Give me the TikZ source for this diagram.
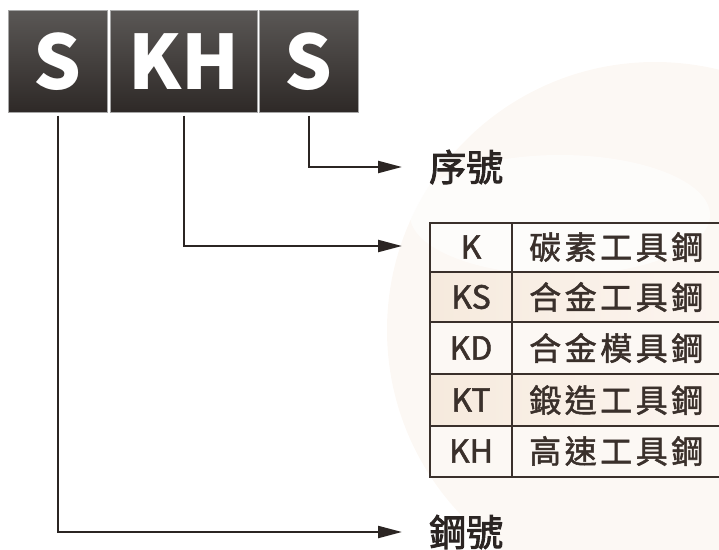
\documentclass[tikz,border=0pt]{standalone}
\usepackage{fontspec}
\usetikzlibrary{arrows.meta}
\newfontfamily\cjk{Noto Sans CJK TC}
\newfontfamily\cjkmed{Noto Sans CJK TC}[FakeBold=1.6]
\newfontfamily\cjklab{Noto Sans CJK TC}[FakeBold=2.4]
\newfontfamily\cjksp{Noto Sans CJK TC}[LetterSpace=11,FakeBold=1.6]
\definecolor{ink}{HTML}{2B2523}
\definecolor{tink}{HTML}{3A302B}
\definecolor{boxtop}{HTML}{5A5755}
\definecolor{boxbot}{HTML}{2E2927}
\definecolor{beige}{HTML}{F6EADD}
\definecolor{beigeL}{HTML}{FCF5F0}
\definecolor{bgring}{HTML}{FCF8F4}
\tikzset{
  letterbox/.style={draw=gray!70, line width=0.6pt, top color=boxtop, bottom color=boxbot,
    text=white, font=\cjk\bfseries\fontsize{75}{75}\selectfont, inner sep=0pt, anchor=north west},
  conn/.style={draw=ink, line width=2.2pt, -{Triangle[length=24pt,width=12pt]}},
  lbl/.style={font=\cjklab\fontsize{37}{37}\selectfont, text=ink, inner sep=0pt, anchor=west},
  codetxt/.style={font=\cjkmed\fontsize{32}{32}\selectfont, text=tink, inner sep=0pt},
  steeltxt/.style={font=\cjksp\fontsize{32}{32}\selectfont, text=tink, inner sep=0pt, anchor=west},
  tline/.style={draw=tink, line width=2.2pt},
}
\begin{document}
\begin{tikzpicture}[x=1pt,y=-1pt]
\useasboundingbox (0,0) rectangle (719,549);
% background brush ring
\fill[bgring] (655,330) circle (268);
\fill[white, opacity=0.6] (560,215) ellipse (150 and 60);
% letter boxes
\node[letterbox, minimum width=99pt, minimum height=102pt] (s1) at (8,10) {S};
\node[letterbox, minimum width=147pt, minimum height=102pt] (kh) at (110,10) {KH};
\node[letterbox, minimum width=99pt, minimum height=102pt] (s2) at (259,10) {S};
% labels
\node[lbl] (xh) at (429,167) {序號};
\node[lbl] (gh) at (429,532) {鋼號};
% table
\fill[left color=beige, right color=beigeL] (430,272) rectangle (719,322);
\fill[left color=beige, right color=beigeL] (430,374) rectangle (719,426);
\foreach \y in {223,272,322,374,426,477} \draw[tline] (429,\y) -- (719,\y);
\draw[tline] (430,222) -- (430,478);
\draw[tline] (512,222) -- (512,478);
\coordinate (tbl) at (430,246);
\node[codetxt] (c1) at (471,247) {K};
\node[codetxt] (c2) at (471,297) {KS};
\node[codetxt] (c3) at (471,348) {KD};
\node[codetxt] (c4) at (471,400) {KT};
\node[codetxt] (c5) at (471,451) {KH};
\node[steeltxt] (n1) at (529,247) {碳素工具鋼};
\node[steeltxt] (n2) at (529,297) {合金工具鋼};
\node[steeltxt] (n3) at (529,348) {合金模具鋼};
\node[steeltxt] (n4) at (529,400) {鍛造工具鋼};
\node[steeltxt] (n5) at (529,451) {高速工具鋼};
% connectors
\draw[conn, shorten <=3pt, shorten >=27pt] (s2.south) |- (xh.west);
\draw[conn, shorten <=3pt, shorten >=28pt] (kh.south) |- (tbl);
\draw[conn, shorten <=3pt, shorten >=27pt] (s1.south) |- (gh.west);
\end{tikzpicture}
\end{document}
